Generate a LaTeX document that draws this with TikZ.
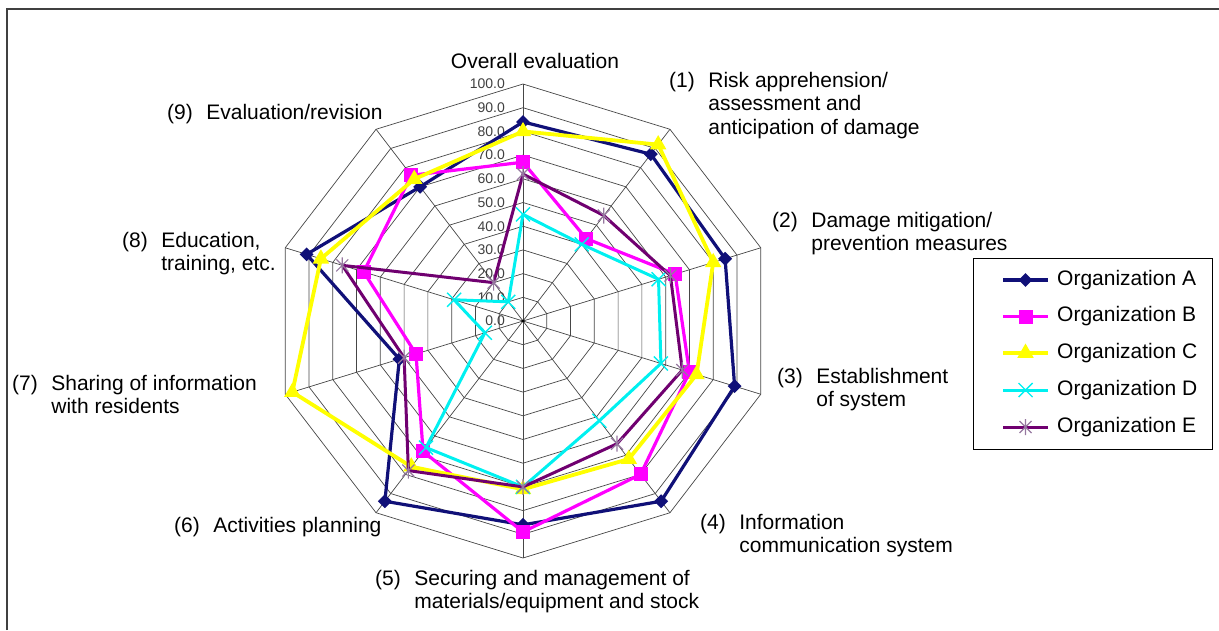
\documentclass[tikz,border=0pt]{standalone}
\usepackage{fontspec}
\setmainfont{Liberation Sans}
\usetikzlibrary{shapes.geometric}
\definecolor{orgA}{RGB}{16,16,120}
\definecolor{orgB}{RGB}{255,0,255}
\definecolor{orgC}{RGB}{255,255,0}
\definecolor{orgD}{RGB}{0,240,240}
\definecolor{orgE}{RGB}{112,0,112}
\definecolor{starE}{RGB}{150,120,160}
\definecolor{gridc}{RGB}{70,70,70}
\newcommand{\axlbl}[2]{\begin{tabular}[t]{@{}l@{\hspace{13.5pt}}l@{}}#1 & #2\end{tabular}}
\begin{document}
\begin{tikzpicture}[x=1pt,y=-1pt,
  declare function={px(\k,\v)=523+2.5*\v*sin(36*\k); py(\k,\v)=321-2.37*\v*cos(36*\k);},
  gridline/.style={draw=gridc, line width=0.7pt},
  lbl/.style={font=\fontsize{21}{23.5}\selectfont, inner sep=0pt, align=left},
  ticklbl/.style={font=\fontsize{14}{16}\selectfont, text=black!75, inner sep=0pt, anchor=east},
  ser/.style={line width=3.2pt, line join=round},
  mA/.style={diamond, fill=orgA, inner sep=0pt, minimum size=14pt},
  mB/.style={rectangle, fill=orgB, inner sep=0pt, minimum size=14pt},
  mC/.style={regular polygon, regular polygon sides=3, fill=orgC, inner sep=0pt, minimum size=19pt},
  pics/mD/.style={code={\draw[line width=1.4pt, orgD] (-7,-7)--(7,7) (-7,7)--(7,-7);}},
  pics/mE/.style={code={\draw[line width=1.2pt, starE] (-6,-6)--(6,6) (-6,6)--(6,-6) (0,-8)--(0,8);}}
]
\useasboundingbox (0,0) rectangle (1219,630);
% frame
\draw[line width=1.5pt, black!75] (7,630) -- (7,9) -- (1219,9);

% grid rings and spokes
\coordinate (C) at (523,321);
\foreach \r in {10,20,...,100}{
  \draw[gridline] ({px(0,\r)},{py(0,\r)}) \foreach \k in {1,...,9}{ -- ({px(\k,\r)},{py(\k,\r)})} -- cycle;
}
\foreach \k in {0,...,9}{
  \draw[gridline] (C) -- ({px(\k,100)},{py(\k,100)});
}
\fill[black] (C) circle (1.6);

% tick labels
\foreach \r/\t in {0/0.0,1/10.0,2/20.0,3/30.0,4/40.0,5/50.0,6/60.0,7/70.0,8/80.0,9/90.0,10/100.0}{
  \node[ticklbl] (tk\r) at (505,{321-23.7*\r}) {\t};
}

% series
\def\dataA{84,87,85,89,94,86,94,52,91,70}
\def\dataB{67,43,64,70,80,89,68,45,67,76}
\def\dataC{80,92,80,73,72,71,76,97,85,74}
\def\dataD{45,40,57,58,52,70,66,16,29,10}
\def\dataE{62,55,62,67,64,70,78,50,76,20}
\foreach \s in {A,B,C,D,E}{
  \edef\lst{\csname data\s\endcsname}
  \foreach \v [count=\i from 0] in \lst {
    \coordinate (\s\i) at ({px(\i,\v)},{py(\i,\v)});
  }
}
\draw[ser, orgA] (A0) \foreach \i in {1,...,9}{ -- (A\i)} -- cycle;
\foreach \i in {0,...,9}{ \node[mA] (mkA\i) at (A\i) {}; }
\draw[ser, orgB] (B0) \foreach \i in {1,...,9}{ -- (B\i)} -- cycle;
\foreach \i in {0,...,9}{ \node[mB] (mkB\i) at (B\i) {}; }
\draw[ser, orgC, line width=3.8pt] (C0) \foreach \i in {1,...,9}{ -- (C\i)} -- cycle;
\foreach \i in {0,...,9}{ \node[mC] (mkC\i) at (C\i) {}; }
\draw[ser, orgD, line width=3pt] (D0) \foreach \i in {1,...,9}{ -- (D\i)} -- cycle;
\foreach \i in {0,...,9}{ \pic at (D\i) {mD}; }
\draw[ser, orgE, line width=3pt] (E0) \foreach \i in {1,...,9}{ -- (E\i)} -- cycle;
\foreach \i in {0,...,9}{ \pic at (E\i) {mE}; }

% axis labels
\node[lbl, anchor=base] (l0) at (535,68) {Overall evaluation};
\node[lbl, anchor=base west] (t1) at (669,87) {\axlbl{(1)}{Risk apprehension/\\ & assessment and\\ & anticipation of damage}};
\node[lbl, anchor=base west] (t2) at (772,227) {\axlbl{(2)}{Damage mitigation/\\ & prevention measures}};
\node[lbl, anchor=base west] (t3) at (777,383) {\axlbl{(3)}{Establishment\\ & of system}};
\node[lbl, anchor=base west] (t4) at (700,529) {\axlbl{(4)}{Information\\ & communication system}};
\node[lbl, anchor=base west] (t5) at (375,585) {\axlbl{(5)}{Securing and management of\\ & materials/equipment and stock}};
\node[lbl, anchor=base west] (t6) at (174,532) {\axlbl{(6)}{Activities planning}};
\node[lbl, anchor=base west] (t7) at (12,390) {\axlbl{(7)}{Sharing of information\\ & with residents}};
\node[lbl, anchor=base west] (t8) at (122,247) {\axlbl{(8)}{Education,\\ & training, etc.}};
\node[lbl, anchor=base west] (t9) at (167,119) {\axlbl{(9)}{Evaluation/revision}};

% legend
\node[draw=black, line width=1pt, minimum width=239pt, minimum height=191pt, inner sep=0pt] (legend) at (1092.5,353.5) {};
\foreach \s/\y in {A/280,B/316.5,C/353,D/390,E/427}{
  \coordinate (lgL\s) at (1003,\y);
  \coordinate (lgR\s) at (1048,\y);
  \node[lbl, anchor=west] (lgT\s) at (1057,\y) {Organization \s};
}
\draw[ser, orgA] (lgLA) -- (lgRA); \node[mA] (lgMA) at (1025.5,280) {};
\draw[ser, orgB] (lgLB) -- (lgRB); \node[mB] (lgMB) at (1025.5,316.5) {};
\draw[ser, orgC, line width=3.8pt] (lgLC) -- (lgRC); \node[mC] (lgMC) at (1025.5,353) {};
\draw[ser, orgD, line width=3pt] (lgLD) -- (lgRD); \pic at (1025.5,390) {mD};
\draw[ser, orgE, line width=3pt] (lgLE) -- (lgRE); \pic at (1025.5,427) {mE};
\end{tikzpicture}
\end{document}
